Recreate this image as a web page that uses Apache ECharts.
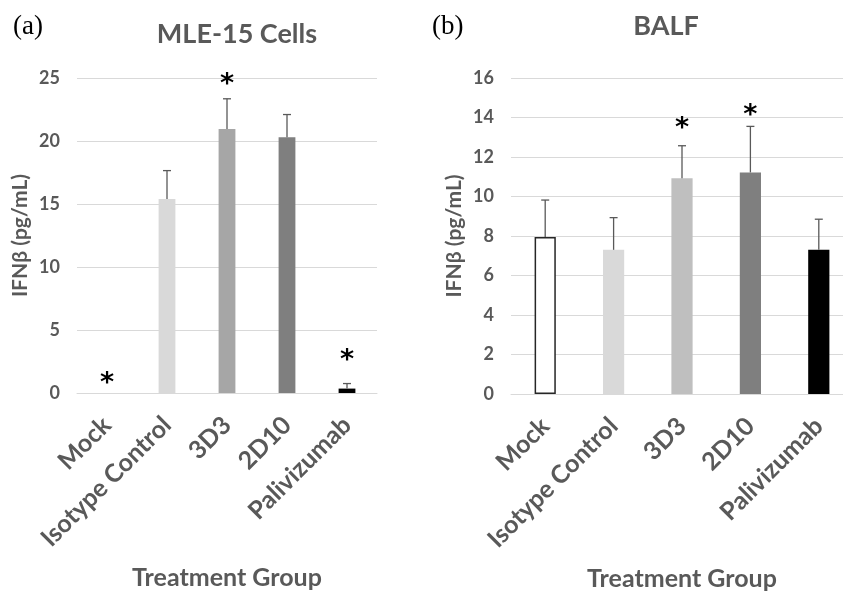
<!DOCTYPE html>
<html><head><meta charset="utf-8">
<script src="https://cdn.jsdelivr.net/npm/echarts@6/dist/echarts.min.js"></script>
<style>html,body{margin:0;padding:0;background:#fff}#c{width:843px;height:591px}</style>
</head><body><div id="c"></div>
<script>
const categories = ['Mock', 'Isotype Control', '3D3', '2D10', 'Palivizumab'];
const mleValues = [0, 15.4, 20.95, 20.3, 0.35];
const mleErrors = [0, 2.25, 2.4, 1.8, 0.4];
const mleStars = [1.2, null, 24.9, null, 3.0];
const balfValues = [7.95, 7.3, 10.93, 11.22, 7.3];
const balfErrors = [1.87, 1.63, 1.64, 2.33, 1.55];
const balfStars = [null, null, 13.7, 14.4, null];
const mleColors = ['#ffffff', '#d9d9d9', '#a6a6a6', '#7f7f7f', '#000000'];
const balfColors = ['#ffffff', '#d9d9d9', '#bfbfbf', '#7f7f7f', '#000000'];
const mleTicks = [0, 5, 10, 15, 20, 25];
const balfTicks = [0, 2, 4, 6, 8, 10, 12, 14, 16];

const FONT = 'Lato';
const GRAY = '#595959';

function barData(vals, cols, outline) {
  return vals.map((v, i) => ({
    value: v,
    itemStyle: { color: cols[i], borderColor: (outline && cols[i] === '#ffffff') ? '#262626' : cols[i], borderWidth: (outline && cols[i] === '#ffffff') ? 1.5 : 0 }
  }));
}
function errData(vals, errs) { return vals.map((v, i) => [i, v, errs[i]]); }
function starData(stars) { return stars.map((s, i) => s == null ? null : [i, s]).filter(d => d); }

function errRender(params, api) {
  const x = api.value(0), v = api.value(1), e = api.value(2);
  if (!e) return null;
  const p0 = api.coord([x, v]);
  const p1 = api.coord([x, v + e]);
  const style = { stroke: '#595959', lineWidth: 1.3 };
  return { type: 'group', children: [
    { type: 'line', shape: { x1: p0[0], y1: p0[1], x2: p1[0], y2: p1[1] }, style },
    { type: 'line', shape: { x1: p1[0] - 4, y1: p1[1], x2: p1[0] + 4, y2: p1[1] }, style }
  ]};
}
function starRender(params, api) {
  const p = api.coord([api.value(0), api.value(1)]);
  return { type: 'text', x: p[0], y: p[1] + 6, style: { text: '*', fill: '#000', font: 'bold 27px "DejaVu Sans"', align: 'center', verticalAlign: 'middle' } };
}

function xAxis(gi) {
  return {
    type: 'category', gridIndex: gi, data: categories,
    axisLine: { lineStyle: { color: '#d9d9d9', width: 1 } },
    axisTick: { show: false },
    axisLabel: { rotate: 45, interval: 0, color: GRAY, fontFamily: FONT, fontWeight: 'bold', fontSize: 25, margin: 28 },
    name: 'Treatment Group', nameLocation: 'middle', nameGap: 172,
    nameTextStyle: { color: GRAY, fontFamily: FONT, fontWeight: 'bold', fontSize: 25 }
  };
}
function yAxis(gi, ticks) {
  return {
    type: 'value', gridIndex: gi, min: ticks[0], max: ticks[ticks.length - 1], interval: ticks[1] - ticks[0],
    axisLine: { show: false }, axisTick: { show: false },
    splitLine: { lineStyle: { color: '#d9d9d9', width: 1 } },
    axisLabel: { color: GRAY, fontFamily: FONT, fontWeight: 'bold', fontSize: 18, margin: 17 },
    name: 'IFNβ (pg/mL)', nameLocation: 'middle', nameGap: 46,
    nameTextStyle: { color: GRAY, fontFamily: FONT, fontWeight: 'bold', fontSize: 21 }
  };
}

const chart = echarts.init(document.getElementById('c'), null, { renderer: 'canvas' });
chart.setOption({
  animation: false,
  backgroundColor: '#fff',
  title: [
    { text: '(a)', left: 8, top: 8, textStyle: { fontFamily: 'Liberation Serif', fontWeight: 'normal', fontSize: 27, color: '#000' } },
    { text: '(b)', left: 427, top: 8, textStyle: { fontFamily: 'Liberation Serif', fontWeight: 'normal', fontSize: 27, color: '#000' } },
    { text: 'MLE-15 Cells', left: 232, textAlign: 'center', top: 16, textStyle: { fontFamily: FONT, fontWeight: 'bold', fontSize: 27, color: GRAY } },
    { text: 'BALF', left: 661, textAlign: 'center', top: 8, textStyle: { fontFamily: FONT, fontWeight: 'bold', fontSize: 27, color: GRAY } }
  ],
  grid: [
    { left: 77, right: 466, top: 78, bottom: 198, outerBoundsMode: 'none', containLabel: false },
    { left: 511, right: -10, top: 78, bottom: 197, outerBoundsMode: 'none', containLabel: false }
  ],
  xAxis: [xAxis(0), xAxis(1)],
  yAxis: [yAxis(0, mleTicks), yAxis(1, balfTicks)],
  series: [
    { type: 'bar', xAxisIndex: 0, yAxisIndex: 0, barWidth: '28%', data: barData(mleValues, mleColors, false) },
    { type: 'bar', xAxisIndex: 1, yAxisIndex: 1, barWidth: '31%', data: barData(balfValues, balfColors, true) },
    { type: 'custom', xAxisIndex: 0, yAxisIndex: 0, renderItem: errRender, data: errData(mleValues, mleErrors), z: 3 },
    { type: 'custom', xAxisIndex: 1, yAxisIndex: 1, renderItem: errRender, data: errData(balfValues, balfErrors), z: 3 },
    { type: 'custom', xAxisIndex: 0, yAxisIndex: 0, renderItem: starRender, data: starData(mleStars), z: 4 },
    { type: 'custom', xAxisIndex: 1, yAxisIndex: 1, renderItem: starRender, data: starData(balfStars), z: 4 }
  ]
});
</script></body></html>
